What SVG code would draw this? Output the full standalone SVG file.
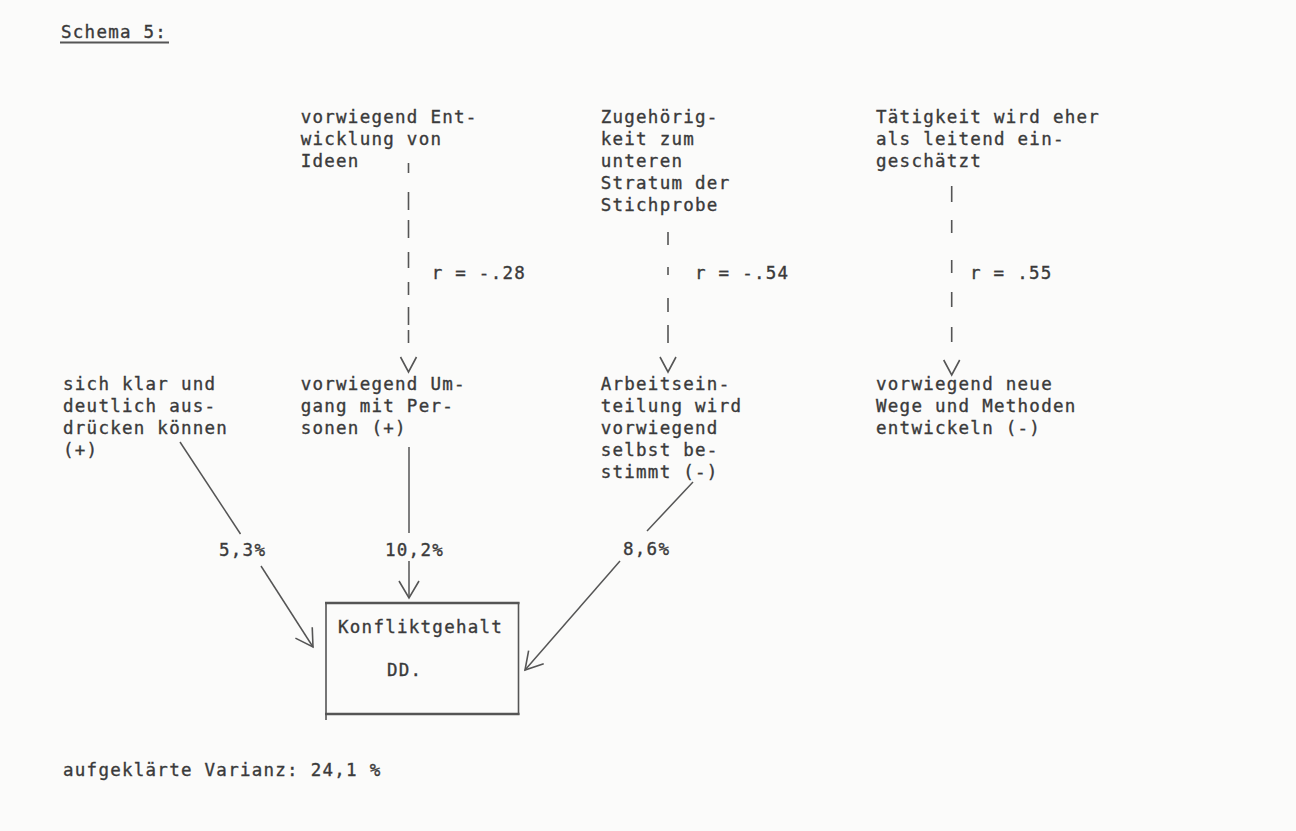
<svg xmlns="http://www.w3.org/2000/svg" width="1296" height="831" viewBox="0 0 1296 831">
<defs>
<style>
text{font-family:"DejaVu Sans Mono","Liberation Mono",monospace;font-size:17.5px;letter-spacing:1.26px;fill:#3a3a3a;stroke:#3a3a3a;stroke-width:0.35px}
.ln{stroke:#555;stroke-width:1.5;fill:none}
.ds{stroke:#555;stroke-width:1.6;fill:none}
.box{stroke:#555;fill:none}
</style>
<marker id="ah" markerUnits="userSpaceOnUse" markerWidth="40" markerHeight="40" viewBox="-20 -20 40 40" refX="0" refY="0" orient="auto">
<path d="M -17 -10 L 0 0 L -17 10" fill="none" stroke="#555" stroke-width="1.6"/>
</marker>
</defs>
<rect width="1296" height="831" fill="#fbfbfa"/>

<g id="title">
<text x="61" y="38">Schema 5:</text>
<line x1="60" y1="42.5" x2="169" y2="42.5" stroke="#555" stroke-width="1.8"/>
</g>

<g id="node-ideen">
<text x="300.7" y="123">vorwiegend Ent-</text>
<text x="300.7" y="145">wicklung von</text>
<text x="300.7" y="167">Ideen</text>
</g>

<g id="node-stratum">
<text x="600.7" y="123">Zugehörig-</text>
<text x="600.7" y="145">keit zum</text>
<text x="600.7" y="167">unteren</text>
<text x="600.7" y="189">Stratum der</text>
<text x="600.7" y="211">Stichprobe</text>
</g>

<g id="node-leitend">
<text x="876" y="123">Tätigkeit wird eher</text>
<text x="876" y="145">als leitend ein-</text>
<text x="876" y="167">geschätzt</text>
</g>

<g id="node-ausdruecken">
<text x="63" y="390">sich klar und</text>
<text x="63" y="412">deutlich aus-</text>
<text x="63" y="434">drücken können</text>
<text x="63" y="456">(+)</text>
</g>

<g id="node-personen">
<text x="300.7" y="390">vorwiegend Um-</text>
<text x="300.7" y="412">gang mit Per-</text>
<text x="300.7" y="434">sonen (+)</text>
</g>

<g id="node-arbeitseinteilung">
<text x="600.7" y="390">Arbeitsein-</text>
<text x="600.7" y="412">teilung wird</text>
<text x="600.7" y="434">vorwiegend</text>
<text x="600.7" y="456">selbst be-</text>
<text x="600.7" y="478">stimmt (-)</text>
</g>

<g id="node-methoden">
<text x="876" y="390">vorwiegend neue</text>
<text x="876" y="412">Wege und Methoden</text>
<text x="876" y="434">entwickeln (-)</text>
</g>

<g id="node-konfliktgehalt">
<line class="box" x1="325" y1="603" x2="519.5" y2="603" stroke-width="2.6"/>
<line class="box" x1="325" y1="714" x2="519.5" y2="714" stroke-width="2.6"/>
<line class="box" x1="326" y1="602" x2="326" y2="720" stroke-width="1.6"/>
<line class="box" x1="518.5" y1="602" x2="518.5" y2="715" stroke-width="1.6"/>
<text x="338" y="633">Konfliktgehalt</text>
<text x="387" y="676">DD.</text>
</g>

<g id="connectors">
<path class="ds" d="M408.5 163 V173 M408.5 192 V210 M408.5 220 V238 M408.5 252 V268 M408.5 282 V295 M408.5 307 V325 M408.5 330 V343"/>
<polyline class="ds" points="400.5,357 408.5,372 416.5,357"/>
<path class="ds" d="M668 232 V245 M668 267 V275 M668 298 V312 M668 325 V343"/>
<polyline class="ds" points="660,357 668,372 676,357"/>
<path class="ds" d="M951.7 186 V202 M951.7 220 V233 M951.7 260 V273 M951.7 292 V307 M951.7 327 V342"/>
<polyline class="ds" points="943.7,360 951.7,375 959.7,360"/>

<line class="ln" x1="180" y1="442" x2="240.5" y2="534"/>
<line class="ln" x1="261" y1="566" x2="313" y2="647" marker-end="url(#ah)"/>
<line class="ln" x1="409" y1="447" x2="409" y2="533"/>
<line class="ln" x1="409" y1="561" x2="409" y2="598" marker-end="url(#ah)"/>
<line class="ln" x1="693" y1="482" x2="647" y2="531"/>
<line class="ln" x1="620" y1="561" x2="525" y2="670" marker-end="url(#ah)"/>
</g>

<g id="labels">
<text x="431.7" y="279">r = -.28</text>
<text x="695" y="279">r = -.54</text>
<text x="970" y="279">r = .55</text>
<text x="219" y="556">5,3%</text>
<text x="385" y="556">10,2%</text>
<text x="623" y="555">8,6%</text>
</g>

<g id="footer">
<text x="63" y="776">aufgeklärte Varianz: 24,1 %</text>
</g>
</svg>
